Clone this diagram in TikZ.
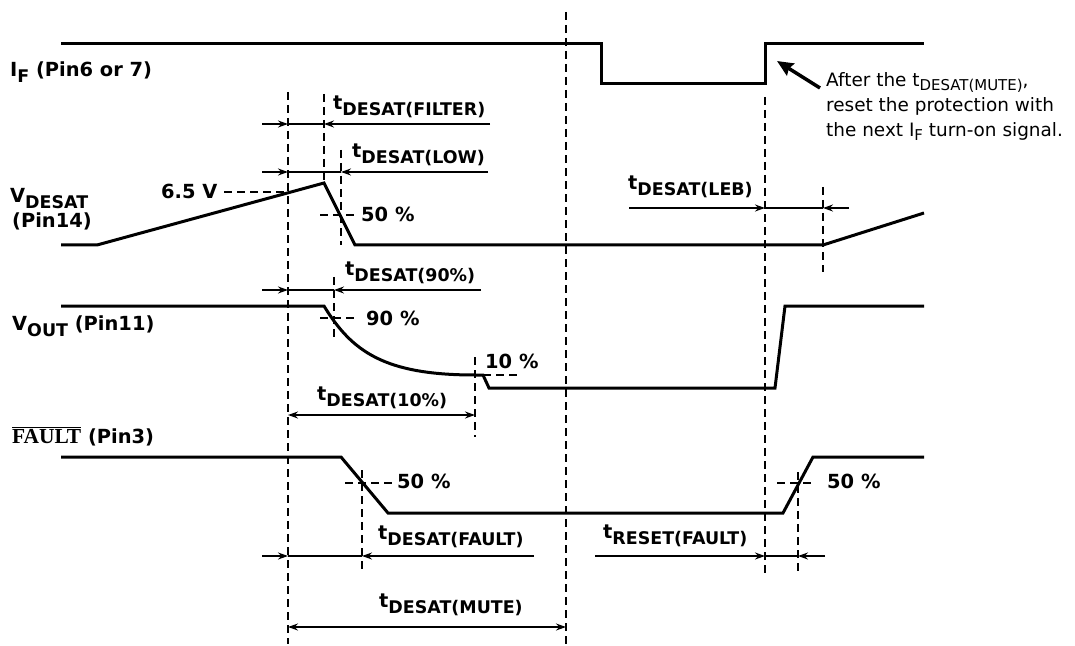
\documentclass[tikz,border=0pt]{standalone}
\usepackage{fontspec}
\setsansfont{DejaVu Sans}
\newfontfamily\faultfont{Liberation Serif}
\usetikzlibrary{arrows.meta}

\newcommand{\subtxt}[1]{\raisebox{-6bp}{\fontsize{17.5}{17.5}\selectfont #1}}
\newcommand{\notesub}[1]{\raisebox{-4bp}{\fontsize{15}{15}\selectfont #1}}

\tikzset{
  wave/.style={line width=3bp},
  guide/.style={line width=1.8bp, dash pattern=on 8bp off 5bp},
  dimline/.style={line width=1.5bp},
  dimtip/.style={dimline, -{Stealth[length=10bp,width=7bp,inset=3.5bp]}},
  dimboth/.style={dimline, {Stealth[length=10bp,width=7bp,inset=3.5bp]}-{Stealth[length=10bp,width=7bp,inset=3.5bp]}},
  notearrow/.style={line width=3.5bp, -{Stealth[length=16bp,width=14bp,inset=2bp]}},
  lbl/.style={inner sep=0pt, anchor=base west, font=\fontsize{19.5}{23}\selectfont\sffamily\bfseries},
  note/.style={inner sep=0pt, anchor=base west, font=\fontsize{18.5}{25}\selectfont\sffamily}
}

\begin{document}
\begin{tikzpicture}[x=1bp, y=-1bp]
    \useasboundingbox (0,0) rectangle (1075,646);

    % Signal names
    \node (IF) [lbl] at (10,77) {I\subtxt{F} (Pin6 or 7)};
    \node (vdesat) [lbl] at (10,203) {V\subtxt{DESAT}};
    \node (pin14) [lbl] at (12,228) {(Pin14)};
    \node (vout) [lbl] at (12,330) {V\subtxt{OUT} (Pin11)};
    \node (fault) [lbl] at (12,443) {$\overline{\mbox{\faultfont\bfseries\fontsize{21.5}{23}\selectfont FAULT}}$ (Pin3)};

    % Waveforms
    \draw[wave] (61,44) -- (601,44) -- (601,84) -- (765,84) -- (765,44) -- (924,44);
    \draw[wave] (61,245) -- (97,245) -- (324,183) -- (355,245) -- (823,245) -- (924,213);
    \draw[wave] (61,306) -- (324,306) .. controls (352,352) and (385,375) .. (475,375)
        -- (483,375) -- (489,388) -- (775,388) -- (785,306) -- (924,306);
    \draw[wave] (61,457) -- (341,457) -- (388,513) -- (783,513) -- (813,457) -- (924,457);

    % Timing marks
    \coordinate (m1top) at (288,92);   \coordinate (m1bot) at (288,644);
    \coordinate (m2top) at (324,94);   \coordinate (m2bot) at (324,183);
    \coordinate (m3top) at (341,150);  \coordinate (m3bot) at (341,245);
    \coordinate (m4top) at (334,277);  \coordinate (m4bot) at (334,340);
    \coordinate (m5top) at (475,357);  \coordinate (m5bot) at (475,437);
    \coordinate (m6top) at (362,470);  \coordinate (m6bot) at (362,570);
    \coordinate (mutetop) at (566,12); \coordinate (mutebot) at (566,644);
    \coordinate (rsttop) at (765,97);  \coordinate (rstbot) at (765,578);
    \coordinate (m7top) at (798,472);  \coordinate (m7bot) at (798,572);
    \coordinate (m8top) at (823,187);  \coordinate (m8bot) at (823,272);
    \foreach \m in {m1,m2,m3,m4,m5,m6,mute,rst,m7,m8}
        \draw[guide] (\m top) -- (\m bot);

    % Level marks
    \coordinate (lv65a) at (224,192);  \coordinate (lv65b) at (288,192);
    \coordinate (lv50a) at (320,215);  \coordinate (lv50b) at (358,215);
    \coordinate (lv90a) at (320,318);  \coordinate (lv90b) at (359,318);
    \coordinate (lv10a) at (483,375);  \coordinate (lv10b) at (520,375);
    \coordinate (lvfa) at (345,483);   \coordinate (lvfb) at (393,483);
    \coordinate (lvra) at (777,483);   \coordinate (lvrb) at (815,483);
    \foreach \l in {lv65,lv50,lv90,lv10,lvf,lvr}
        \draw[guide] (\l a) -- (\l b);

    \node (v65) [lbl] at (161,199) {6.5 V};
    \node (p50a) [lbl] at (361,222) {50 \%};
    \node (p90) [lbl] at (366,325) {90 \%};
    \node (p10) [lbl] at (485,368) {10 \%};
    \node (p50b) [lbl] at (397,488) {50 \%};
    \node (p50c) [lbl] at (827,488) {50 \%};

    % Interval labels
    \node (tfilter) [lbl] at (333,110) {t\subtxt{DESAT(FILTER)}};
    \node (tlow) [lbl] at (352,158) {t\subtxt{DESAT(LOW)}};
    \node (tleb) [lbl] at (628,190) {t\subtxt{DESAT(LEB)}};
    \node (tninety) [lbl] at (345,276) {t\subtxt{DESAT(90\%)}};
    \node (tten) [lbl] at (317,400) {t\subtxt{DESAT(10\%)}};
    \node (tfault) [lbl] at (378,539) {t\subtxt{DESAT(FAULT)}};
    \node (treset) [lbl] at (603,538) {t\subtxt{RESET(FAULT)}};
    \node (tmute) [lbl] at (379,607) {t\subtxt{DESAT(MUTE)}};

    % Interval arrows
    \coordinate (fa) at (262,124); \coordinate (fb) at (288,124); \coordinate (fc) at (324,124); \coordinate (fd) at (490,124);
    \coordinate (la) at (262,172); \coordinate (lb) at (288,172); \coordinate (lc) at (341,172); \coordinate (ld) at (488,172);
    \coordinate (na) at (262,290); \coordinate (nb) at (288,290); \coordinate (nc) at (334,290); \coordinate (nd) at (481,290);
    \coordinate (ua) at (262,556); \coordinate (ub) at (288,556); \coordinate (uc) at (362,556); \coordinate (ud) at (534,556);
    \coordinate (ea) at (629,208); \coordinate (eb) at (765,208); \coordinate (ec) at (823,208); \coordinate (ed) at (849,208);
    \coordinate (ra) at (595,556); \coordinate (rb) at (765,556); \coordinate (rc) at (798,556); \coordinate (rd) at (825,556);
    \foreach \a in {f,l,n,u,e,r} {
        \draw[dimtip] (\a a) -- (\a b);
        \draw[dimline] (\a b) -- (\a c);
        \draw[dimtip] (\a d) -- (\a c);
    }
    \coordinate (ta) at (288,415); \coordinate (tb) at (475,415);
    \draw[dimboth] (ta) -- (tb);
    \coordinate (sa) at (288,627); \coordinate (sb) at (566,627);
    \draw[dimboth] (sa) -- (sb);

    % Note on the reset
    \node (note1) [note] at (826,87) {After the t\notesub{DESAT(MUTE)},};
    \node (note2) [note] at (826,112) {reset the protection with};
    \node (note3) [note] at (826,137) {the next I\notesub{F} turn-on signal.};
    \coordinate (notetail) at (820,88);
    \coordinate (ifrise) at (777,61);
    \draw[notearrow] (notetail) -- (ifrise);
\end{tikzpicture}
\end{document}
